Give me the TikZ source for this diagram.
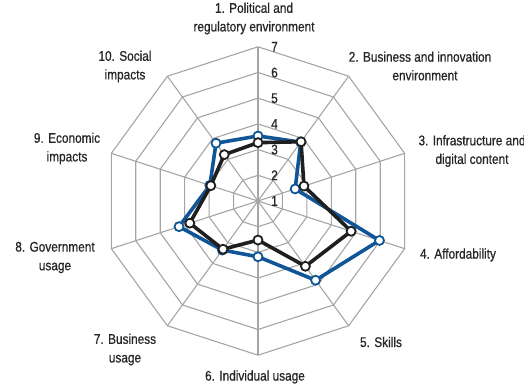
\documentclass[tikz,border=0pt]{standalone}
\usepackage{fontspec}
\setmainfont[FakeStretch=0.845,FakeBold=0.7]{Liberation Sans}
\definecolor{wefblue}{RGB}{16,86,150}
\definecolor{textgray}{RGB}{38,38,38}
\definecolor{webgray}{RGB}{165,165,165}
\tikzset{
  webline/.style={line width=1.1pt, color=webgray, line join=round},
  scalenum/.style={inner sep=0pt, text=textgray, font=\fontsize{14}{15}\selectfont},
  pillar/.style={inner sep=0pt, align=center, text=textgray, font=\fontsize{14}{18.6}\selectfont},
  blueseries/.style={line width=3.6pt, color=wefblue, line join=round},
  blackseries/.style={line width=3.6pt, color=black!88, line join=round},
  bluedot/.style={circle, inner sep=0pt, minimum size=9pt, line width=1.8pt, draw=wefblue, fill=white},
  blackdot/.style={circle, inner sep=0pt, minimum size=9pt, line width=1.8pt, draw=black!88, fill=white}
}

\begin{document}
\begin{tikzpicture}[x=1pt,y=1pt]
		%%%%% START %%%%%
		\useasboundingbox (-258,-186) rectangle (266,201);
		
		% web of the chart
		\foreach \r in {1,...,6}
			\draw[webline] (90:\r*25.7) \foreach \a in {1,...,9} { -- ({90-36*\a}:\r*25.7) } -- cycle;
		\foreach \a in {0,...,9}
			\draw[webline] (0,0) -- ({90-36*\a}:154.2);
		
		% scale
		\foreach \v in {1,...,7}
			\node[scalenum] (num\v) at (16.5,{(\v-1)*25.7}) {\v};
		
		% pillar labels
		\node[pillar] (lab1) at (-4,182.5) {1. Political and\\regulatory environment};
		\node[pillar] (lab2) at (162,135) {2. Business and innovation\\\hspace*{10pt}environment};
		\node[pillar] (lab3) at (214,50) {3. Infrastructure and\\digital content};
		\node[pillar] (lab4) at (200,-54) {4. Affordability};
		\node[pillar] (lab5) at (123,-141) {5. Skills};
		\node[pillar] (lab6) at (-3,-176) {6. Individual usage};
		\node[pillar] (lab7) at (-133,-148.5) {7. Business\\usage};
		\node[pillar] (lab8) at (-203,-56.5) {8. Government\\usage};
		\node[pillar] (lab9) at (-191,52.5) {9. Economic\\impacts};
		\node[pillar] (lab10) at (-133,134.5) {10. Social\\impacts};
		
		% scores
		\foreach \v [count=\i] in {3.53,3.83,2.52,5.97,4.81,3.17,3.36,4.23,2.97,3.78}
			\coordinate (b\i) at ({90-36*(\i-1)}:{(\v-1)*25.7});
		\foreach \v [count=\i] in {3.27,3.85,2.88,4.81,4.14,2.52,3.32,3.79,2.93,3.23}
			\coordinate (k\i) at ({90-36*(\i-1)}:{(\v-1)*25.7});
		
		\draw[blueseries] (b1) -- (b2) -- (b3) -- (b4) -- (b5) -- (b6) -- (b7) -- (b8) -- (b9) -- (b10) -- cycle;
		\foreach \i in {1,...,10}
			\node[bluedot] (bd\i) at (b\i) {};
		
		\draw[blackseries] (k1) -- (k2) -- (k3) -- (k4) -- (k5) -- (k6) -- (k7) -- (k8) -- (k9) -- (k10) -- cycle;
		\foreach \i in {1,...,10}
			\node[blackdot] (kd\i) at (k\i) {};
		
		%%%%% END %%%%%
	\end{tikzpicture}
\end{document}
